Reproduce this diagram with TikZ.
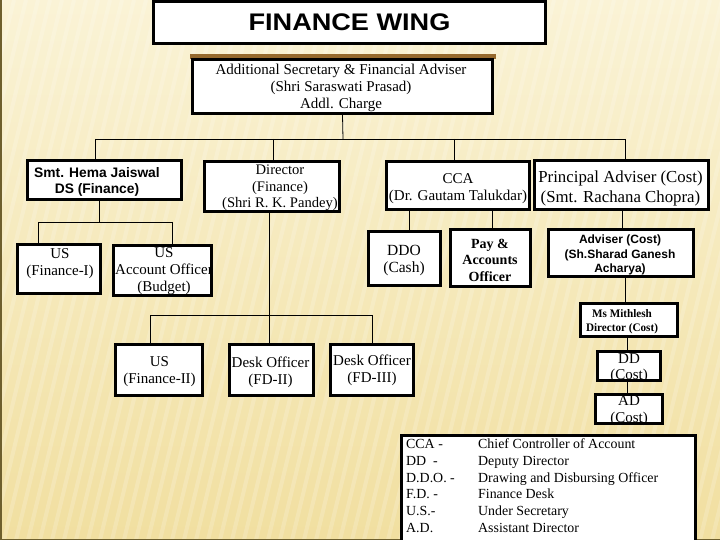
\documentclass[tikz,border=0pt]{standalone}
\usepackage{fontspec}
\setmainfont{Liberation Serif}
\setsansfont{Liberation Sans}
\definecolor{bgtop}{RGB}{250,243,214}
\definecolor{bgbot}{RGB}{241,223,160}
\definecolor{edge}{RGB}{110,95,45}
\definecolor{brownbar}{RGB}{150,105,45}
\begin{document}
\begin{tikzpicture}[x=1pt,y=-1pt,
  box/.style={draw=black, line width=3pt, fill=white, inner sep=0pt},
  conn/.style={draw=black, line width=0.8pt},
  serif/.style={font=\fontsize{15}{16.8}\selectfont},
  txt/.style={inner sep=0pt, align=center}]
\useasboundingbox (0,0) rectangle (720,540);
% background
\shade[top color=bgtop, bottom color=bgbot] (0,0) rectangle (720,540);
\begin{scope}
  \clip (0,0) rectangle (720,540);
  \foreach \i in {-200,-188,...,760} {
    \draw[white, opacity=0.18, line width=4pt] (\i,540) -- (\i+130,0);
  }
\end{scope}
\draw[edge, line width=1.5pt] (0.75,0) -- (0.75,539.25) -- (720,539.25);

% title
\node[box, minimum width=392pt, minimum height=42pt] (fw) at (349.5,22.5) {};
\node[txt, font=\sffamily\bfseries\fontsize{24}{28}\selectfont] (fwt) at (349.5,22)
      {\scalebox{1.13}[1]{FINANCE WING}};

% top box
\fill[brownbar] (189.5,54.5) rectangle (495.5,59);
\node[box, minimum width=300pt, minimum height=54pt] (as) at (342.5,86.5) {};
\node[txt, serif] (ast) at (341,88)
  {Additional Secretary \& Financial Adviser\\(Shri Saraswati Prasad)\\Addl. Charge};

% second row
\node[box, minimum width=154pt, minimum height=39pt] (hj) at (104.5,180) {};
\node[txt, font=\sffamily\bfseries\fontsize{13.8}{16}\selectfont] (hjt) at (97,181.5)
  {Smt. Hema Jaiswal\\DS (Finance)};
\node[box, minimum width=135pt, minimum height=50pt] (dir) at (272,186.5) {};
\node[txt, font=\fontsize{14.6}{16.6}\selectfont] (dirt) at (280,188)
  {Director\\(Finance)\\(Shri R. K. Pandey)};
\node[box, minimum width=143pt, minimum height=48pt] (cca) at (458,185.5) {};
\node[txt, serif] (ccat) at (458,188.5) {CCA\\(Dr. Gautam Talukdar)};
\node[box, minimum width=174pt, minimum height=49pt] (pa) at (621.5,185) {};
\node[txt, font=\fontsize{16.8}{20}\selectfont] (pat) at (620.5,188.5)
  {Principal Adviser (Cost)\\(Smt. Rachana Chopra)};

% third row
\node[box, minimum width=83pt, minimum height=49pt] (usf1) at (59,269) {};
\node[txt, serif] (usf1t) at (60,263.5) {US\\(Finance-I)};
\node[box, minimum width=98pt, minimum height=50pt] (usao) at (162.5,270.5) {};
\node[txt, serif] (usaot) at (164,271) {US\\Account Officer\\(Budget)};
\node[box, minimum width=72pt, minimum height=54pt] (ddo) at (404.5,258.5) {};
\node[txt, font=\fontsize{15.5}{17}\selectfont] (ddot) at (404,261) {DDO\\(Cash)};
\node[box, minimum width=80pt, minimum height=57pt] (pay) at (490.5,258) {};
\node[txt, font=\bfseries\fontsize{14}{16.5}\selectfont] (payt) at (490,260)
  {Pay \&\\Accounts\\Officer};
\node[box, minimum width=145pt, minimum height=47pt] (adv) at (621,253) {};
\node[txt, font=\sffamily\bfseries\fontsize{12}{14.5}\selectfont] (advt) at (620,255)
  {Adviser (Cost)\\(Sh.Sharad Ganesh\\Acharya)};

% cost chain
\node[box, minimum width=97pt, minimum height=33pt] (mith) at (629,320) {};
\node[txt, font=\bfseries\fontsize{11.5}{14}\selectfont] (mitht) at (622,322)
  {\scalebox{0.97}[1]{Ms Mithlesh}\\\scalebox{0.97}[1]{Director (Cost)}};
\node[box, minimum width=63pt, minimum height=29pt] (dd) at (629,366) {};
\node[txt, font=\fontsize{15}{16}\selectfont] (ddt) at (629,368) {DD\\(Cost)};
\node[box, minimum width=67pt, minimum height=29pt] (ad) at (629,409) {};
\node[txt, font=\fontsize{15}{16.5}\selectfont] (adt) at (629,410.5) {AD\\(Cost)};

% fourth row
\node[box, minimum width=87pt, minimum height=51pt] (usf2) at (159,370) {};
\node[txt, serif] (usf2t) at (159.5,372) {US\\(Finance-II)};
\node[box, minimum width=84pt, minimum height=51pt] (do2) at (271.5,370) {};
\node[txt, serif] (do2t) at (270.5,372) {Desk Officer\\(FD-II)};
\node[box, minimum width=83pt, minimum height=51pt] (do3) at (372,370) {};
\node[txt, serif] (do3t) at (372,370.5) {Desk Officer\\(FD-III)};

% legend
\node[box, anchor=north west, minimum width=294pt, minimum height=112pt] (leg) at (399.5,433.5) {};
\node[txt, anchor=north west, font=\fontsize{13.9}{16.8}\selectfont] (legt) at (406,436.5)
  {\begin{tabular}{@{}p{72pt}@{}l@{}}
   CCA - & Chief Controller of Account\\
   DD\ \ - & Deputy Director\\
   D.D.O. - & Drawing and Disbursing Officer\\
   F.D. - & Finance Desk\\
   U.S.- & Under Secretary\\
   A.D. & Assistant Director
   \end{tabular}};

% connectors
\coordinate (b1) at (343,139);
\coordinate (b1a) at (95,139);
\coordinate (b1b) at (273,139);
\coordinate (b1c) at (454,139);
\coordinate (b1d) at (625,139);
\draw[conn] (as.south) -- (b1);
\draw[conn] (b1a) -- (b1d);
\draw[conn] (b1a) -- (b1a |- hj.north);
\draw[conn] (b1b) -- (b1b |- dir.north);
\draw[conn] (b1c) -- (b1c |- cca.north);
\draw[conn] (b1d) -- (b1d |- pa.north);

\coordinate (b2) at (99,222);
\coordinate (b2a) at (38,222);
\coordinate (b2b) at (172,222);
\draw[conn] (b2 |- hj.south) -- (b2);
\draw[conn] (b2a) -- (b2b);
\draw[conn] (b2a) -- (b2a |- usf1.north);
\draw[conn] (b2b) -- (b2b |- usao.north);

\coordinate (d1) at (269,0);
\draw[conn] (d1 |- dir.south) -- (d1 |- do2.north);
\coordinate (b3a) at (150,315);
\coordinate (b3b) at (372,315);
\draw[conn] (b3a) -- (b3b);
\draw[conn] (b3a) -- (b3a |- usf2.north);
\draw[conn] (b3b) -- (b3b |- do3.north);

\coordinate (c1) at (409,0);
\coordinate (c2) at (492,0);
\draw[conn] (c1 |- cca.south) -- (c1 |- ddo.north);
\draw[conn] (c2 |- cca.south) -- (c2 |- pay.north);

\coordinate (p1) at (622,0);
\coordinate (p2) at (625,0);
\coordinate (p3) at (627,0);
\draw[conn] (p1 |- pa.south) -- (p1 |- adv.north);
\draw[conn] (p2 |- adv.south) -- (p2 |- mith.north);
\draw[conn] (p3 |- mith.south) -- (p3 |- dd.north);
\draw[conn] (p3 |- dd.south) -- (p3 |- ad.north);
\end{tikzpicture}
\end{document}
